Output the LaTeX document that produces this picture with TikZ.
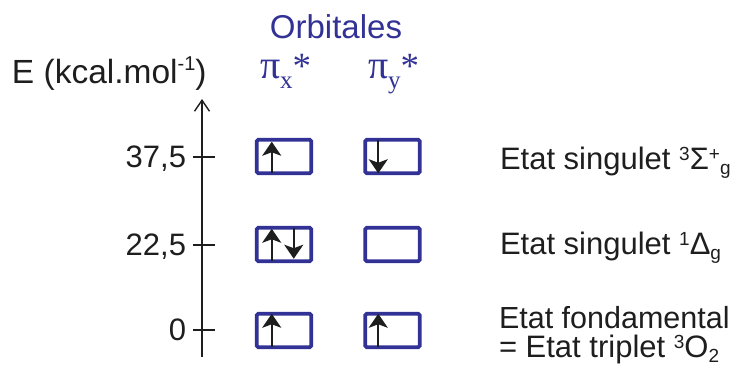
\documentclass[tikz,border=0pt]{standalone}
\usepackage{fontspec}
\setmainfont{Liberation Sans}
\newfontfamily\serifgr{Liberation Serif}
\usetikzlibrary{arrows.meta}
\definecolor{orbblue}{RGB}{50,50,150}
\definecolor{txtgray}{RGB}{30,30,30}
\newcommand{\supx}[1]{\raisebox{0.27em}{\fontsize{19}{19}\selectfont #1}}
\newcommand{\subx}[1]{\raisebox{-0.17em}{\fontsize{19}{19}\selectfont #1}}
\newcommand{\supe}[1]{\raisebox{0.36em}{\fontsize{20}{20}\selectfont #1}}
\newcommand{\pisub}[1]{{\serifgr\fontsize{40}{44}\selectfont π\raisebox{-10pt}{\fontsize{25}{25}\selectfont #1}\fontsize{37}{40}\selectfont *}}
\begin{document}
\begin{tikzpicture}[x=1pt,y=-1pt,
  every node/.style={inner sep=0pt, outer sep=0pt, font=\fontsize{31}{36}\selectfont, text=txtgray},
  orb/.style={draw=orbblue, line width=3.8pt, rounded corners=1.5pt, minimum width=54.5pt, minimum height=33.5pt},
  spin/.style={line width=2.2pt, draw=txtgray, -{Stealth[length=14pt,width=19pt,inset=3.5pt]}},
  axisline/.style={line width=1.4pt, draw=txtgray, -{Straight Barb[length=11pt,width=15pt]}},
  tick/.style={line width=1.4pt, draw=txtgray},
  lab/.style={anchor=base west},
  vlab/.style={anchor=base east}]
\useasboundingbox (0,0) rectangle (733,365);

% titles
\node[text=orbblue, anchor=base, font=\fontsize{33}{38}\selectfont] (orbt) at (336,38) {Orbitales};
\node[lab, font=\fontsize{33.5}{38}\selectfont] (elab) at (12,83) {E (kcal.mol\supe{-1})};
\node[lab, text=orbblue] (pix) at (260,78) {\pisub{x}};
\node[lab, text=orbblue] (piy) at (368,78) {\pisub{y}};

% axis
\coordinate (axb) at (202,357);
\coordinate (axt) at (202,99);
\draw[axisline] (axb) -- (axt);
\coordinate (t1l) at (193,157); \coordinate (t1r) at (215,157);
\coordinate (t2l) at (193,245); \coordinate (t2r) at (215,245);
\coordinate (t3l) at (193,330); \coordinate (t3r) at (215,330);
\draw[tick] (t1l) -- (t1r);
\draw[tick] (t2l) -- (t2r);
\draw[tick] (t3l) -- (t3r);
\node[vlab] (v1) at (186,167) {37,5};
\node[vlab] (v2) at (186,255) {22,5};
\node[vlab] (v3) at (186,340) {0};

% boxes
\node[orb] (b11) at (284,156.5) {};
\node[orb] (b12) at (392.5,156.5) {};
\node[orb] (b21) at (284,244.5) {};
\node[orb] (b22) at (392.5,244.5) {};
\node[orb] (b31) at (284,330.5) {};
\node[orb] (b32) at (392.5,330.5) {};

% spins
\draw[spin] ([xshift=15pt]b11.south west) -- ([xshift=15pt,yshift=-2pt]b11.north west);
\draw[spin] ([xshift=13pt]b12.north west) -- ([xshift=13pt]b12.south west);
\draw[spin] ([xshift=15pt]b21.south west) -- ([xshift=15pt,yshift=-1pt]b21.north west);
\draw[spin] ([xshift=37pt]b21.north west) -- ([xshift=37pt,yshift=2.5pt]b21.south west);
\draw[spin] ([xshift=15pt]b31.south west) -- ([xshift=15pt]b31.north west);
\draw[spin] ([xshift=13pt]b32.south west) -- ([xshift=13pt]b32.north west);

% state labels
\node[lab] (s1) at (500,169) {Etat singulet \supx{3}Σ\supx{+}\subx{g}};
\node[lab] (s2) at (500,254) {Etat singulet \supx{1}Δ\subx{g}};
\node[lab, font=\fontsize{30.5}{36}\selectfont] (s3) at (499,328) {Etat fondamental};
\node[lab] (s4) at (499,357) {= Etat triplet \supx{3}O\subx{2}};
\end{tikzpicture}
\end{document}
